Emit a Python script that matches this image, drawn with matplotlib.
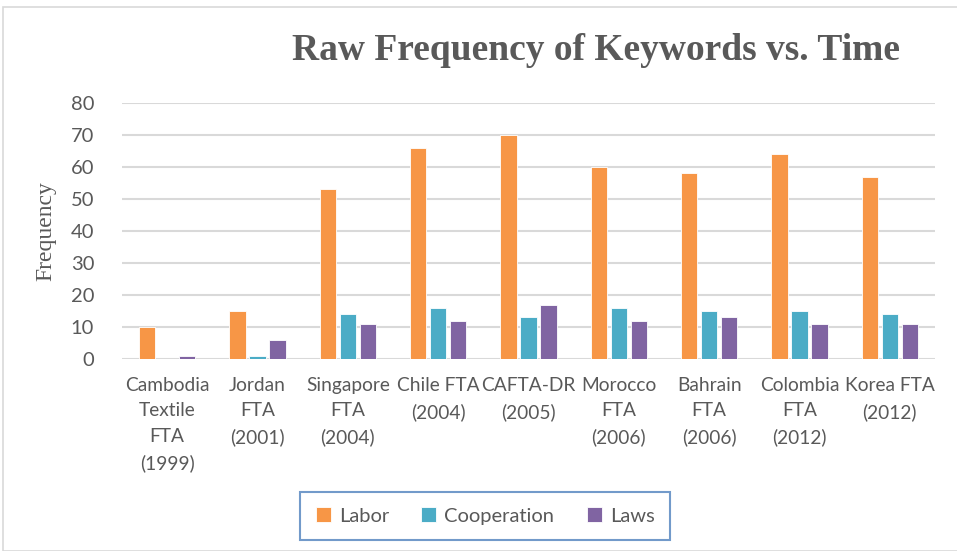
import numpy as np
import matplotlib
matplotlib.use("Agg")
import matplotlib.pyplot as plt
from matplotlib.patches import Rectangle

categories = ["Cambodia\nTextile\nFTA\n(1999)", "Jordan\nFTA\n(2001)", "Singapore\nFTA\n(2004)",
              "Chile FTA\n(2004)", "CAFTA-DR\n(2005)", "Morocco\nFTA\n(2006)",
              "Bahrain\nFTA\n(2006)", "Colombia\nFTA\n(2012)", "Korea FTA\n(2012)"]
labor = [10, 15, 53, 66, 70, 60, 58, 64, 57]
cooperation = [0, 1, 14, 16, 13, 16, 15, 15, 14]
laws = [1, 6, 11, 12, 17, 12, 13, 11, 11]
yticks = [0, 10, 20, 30, 40, 50, 60, 70, 80]

plt.rcParams['font.family'] = ['Lato', 'DejaVu Sans']
txt = '#595959'

fig = plt.figure(figsize=(9.57, 5.51), dpi=100)
ax = fig.add_axes([122/957, 1-359/551, (935-122)/957, (359-103)/551])

x = np.arange(len(categories))
w = 0.18
step = 0.22
ax.bar(x - step, labor, w, color='#F79646', edgecolor='white', linewidth=0.6, label='Labor', zorder=3)
ax.bar(x, cooperation, w, color='#4BACC6', edgecolor='white', linewidth=0.6, label='Cooperation', zorder=3)
ax.bar(x + step, laws, w, color='#8064A2', edgecolor='white', linewidth=0.6, label='Laws', zorder=3)

ax.set_xlim(-0.5, len(categories) - 0.5)
ax.set_ylim(0, 80)
ax.set_yticks(yticks)
ax.set_xticks(x)
ax.set_xticklabels(categories, fontsize=13.8, color=txt, linespacing=1.6)
ax.tick_params(axis='y', labelsize=14.5, labelcolor=txt, length=0, pad=20)
ax.tick_params(axis='x', length=0, pad=13)
ax.grid(axis='y', color='#D9D9D9', linewidth=1.5, zorder=0)
for s in ax.spines.values():
    s.set_visible(False)

ax.set_ylabel('Frequency', family='Liberation Serif', fontsize=17, color=txt, labelpad=10)

fig.text(596/957, 1-50/551, 'Raw Frequency of Keywords vs. Time', family='Liberation Serif',
         fontsize=27, fontweight='bold', color=txt, ha='center', va='center')

leg = fig.legend(loc='center', bbox_to_anchor=(485/957, 1-516/551), ncol=3, fontsize=14.5,
                 frameon=True, fancybox=False, handlelength=0.75, handleheight=0.75,
                 handletextpad=0.4, columnspacing=1.6, borderpad=0.75, borderaxespad=0)
for t in leg.get_texts():
    t.set_color(txt)
leg.get_frame().set_edgecolor('#4F81BD')
leg.get_frame().set_linewidth(1.5)

fig.patches.append(Rectangle((3/957, 0), 1, 1-7/551, transform=fig.transFigure,
                             fill=False, edgecolor='#D9D9D9', linewidth=1.2))

fig.savefig('out.png', dpi=100)
